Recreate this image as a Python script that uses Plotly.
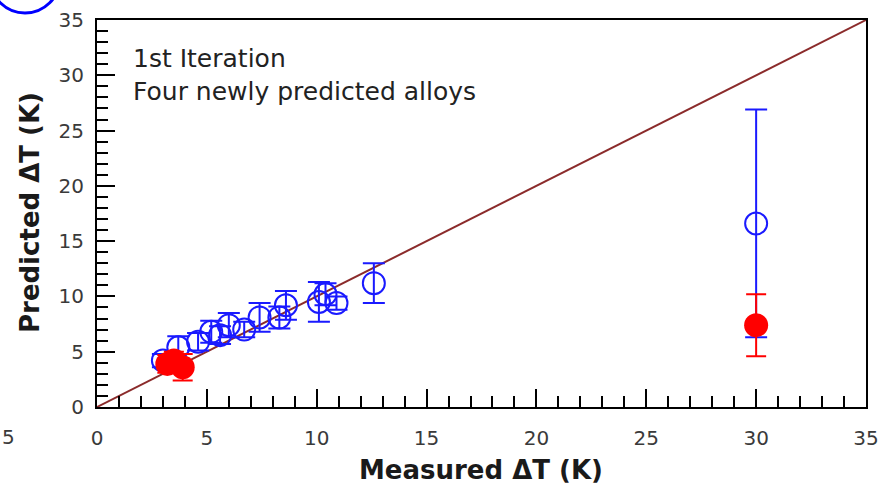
import plotly.graph_objects as go

# Training / previously measured alloys (blue, open circles)
blue_measured = [3.0, 3.7, 4.6, 5.2, 5.6, 6.0, 6.7, 7.4, 8.3, 8.6, 10.1, 10.4, 10.9, 12.6, 30.0]
blue_predicted = [4.2, 5.4, 5.9, 6.8, 6.5, 7.4, 7.0, 8.1, 8.1, 9.2, 9.5, 10.2, 9.4, 11.2, 16.6]
blue_err = [0.6, 1.0, 0.8, 1.0, 0.8, 1.1, 0.7, 1.3, 1.0, 1.3, 1.8, 1.0, 0.6, 1.8, 10.3]

# Four newly predicted alloys (red, filled circles)
red_measured = [3.2, 3.5, 3.9, 30.0]
red_predicted = [3.9, 4.2, 3.6, 7.4]
red_err = [0.8, 0.8, 1.2, 2.8]

# Parity line
line_x = [0, 35]
line_y = [0, 35]

x_ticks = [0, 5, 10, 15, 20, 25, 30, 35]
y_ticks = [0, 5, 10, 15, 20, 25, 30, 35]

fig = go.Figure()

fig.add_trace(go.Scatter(
    x=line_x, y=line_y, mode="lines",
    line=dict(color="#8b2b2b", width=2), showlegend=False, hoverinfo="skip"))

fig.add_trace(go.Scatter(
    x=blue_measured, y=blue_predicted, mode="markers",
    marker=dict(symbol="circle-open", size=22, color="#1a1aff", line=dict(width=2, color="#1a1aff")),
    error_y=dict(type="data", array=blue_err, visible=True, color="#1a1aff", thickness=2, width=11),
    showlegend=False))

fig.add_trace(go.Scatter(
    x=red_measured, y=red_predicted, mode="markers",
    marker=dict(symbol="circle", size=24, color="#ff0000", line=dict(width=0)),
    error_y=dict(type="data", array=red_err, visible=True, color="#ff0000", thickness=2, width=10),
    showlegend=False))

axis_font = dict(family="DejaVu Sans", size=20, color="#3a3a3a")
title_font = dict(family="DejaVu Sans", size=26, color="#1a1a1a")

fig.update_xaxes(
    range=[0, 35], tickvals=x_ticks, ticktext=[str(v) for v in x_ticks],
    ticks="inside", ticklen=18, tickwidth=2, tickcolor="black",
    minor=dict(dtick=1, ticks="inside", ticklen=11, tickwidth=2, tickcolor="black"),
    showline=True, linewidth=2, linecolor="black", mirror=True, automargin=False,
    showgrid=False, zeroline=False, tickfont=axis_font, ticklabelstandoff=12)

fig.update_yaxes(
    range=[0, 35], tickvals=y_ticks, ticktext=[str(v) for v in y_ticks],
    ticks="inside", ticklen=18, tickwidth=2, tickcolor="black",
    minor=dict(dtick=1, ticks="inside", ticklen=11, tickwidth=2, tickcolor="black"),
    showline=True, linewidth=2, linecolor="black", mirror=True, automargin=False,
    showgrid=False, zeroline=False, tickfont=axis_font, ticklabelstandoff=7)

# axis titles
fig.add_annotation(xref="paper", yref="paper", x=(481 - 97) / 769, y=(407 - 470) / 387,
                   xanchor="center", yanchor="middle", showarrow=False,
                   text="<b>Measured ΔT (K)</b>", font=title_font)
fig.add_annotation(xref="paper", yref="paper", x=(30 - 97) / 769, y=(407 - 213) / 387,
                   xanchor="center", yanchor="middle", showarrow=False, textangle=-90,
                   text="<b>Predicted ΔT (K)</b>", font=title_font)

fig.add_annotation(xref="paper", yref="paper", x=(131 - 97) / 769, y=(407 - 75) / 387,
                   xanchor="left", yanchor="middle", showarrow=False, align="left",
                   text="1st Iteration<br>Four newly predicted alloys",
                   font=dict(family="DejaVu Sans", size=25, color="#222222"))

# fragment of a neighbouring tick label at the left edge
fig.add_annotation(xref="paper", yref="paper", x=(0 - 97) / 769, y=(407 - 437) / 387,
                   xanchor="left", yanchor="middle", showarrow=False, text="5",
                   font=axis_font)

# partially visible panel-label circle at the top-left corner
fig.add_shape(type="circle", xref="paper", yref="paper",
              x0=(-10 - 97) / 769, x1=(60 - 97) / 769,
              y0=(407 - 13) / 387, y1=(407 + 57) / 387,
              line=dict(color="#0000ff", width=3))

fig.update_layout(
    width=885, height=488,
    margin=dict(l=97, r=19, t=20, b=81),
    paper_bgcolor="white", plot_bgcolor="white",
    font=dict(family="DejaVu Sans"))

fig.write_html("out.html",
               config={"displayModeBar": False},
               post_script="document.body.style.margin='0';document.body.style.overflow='hidden';")
